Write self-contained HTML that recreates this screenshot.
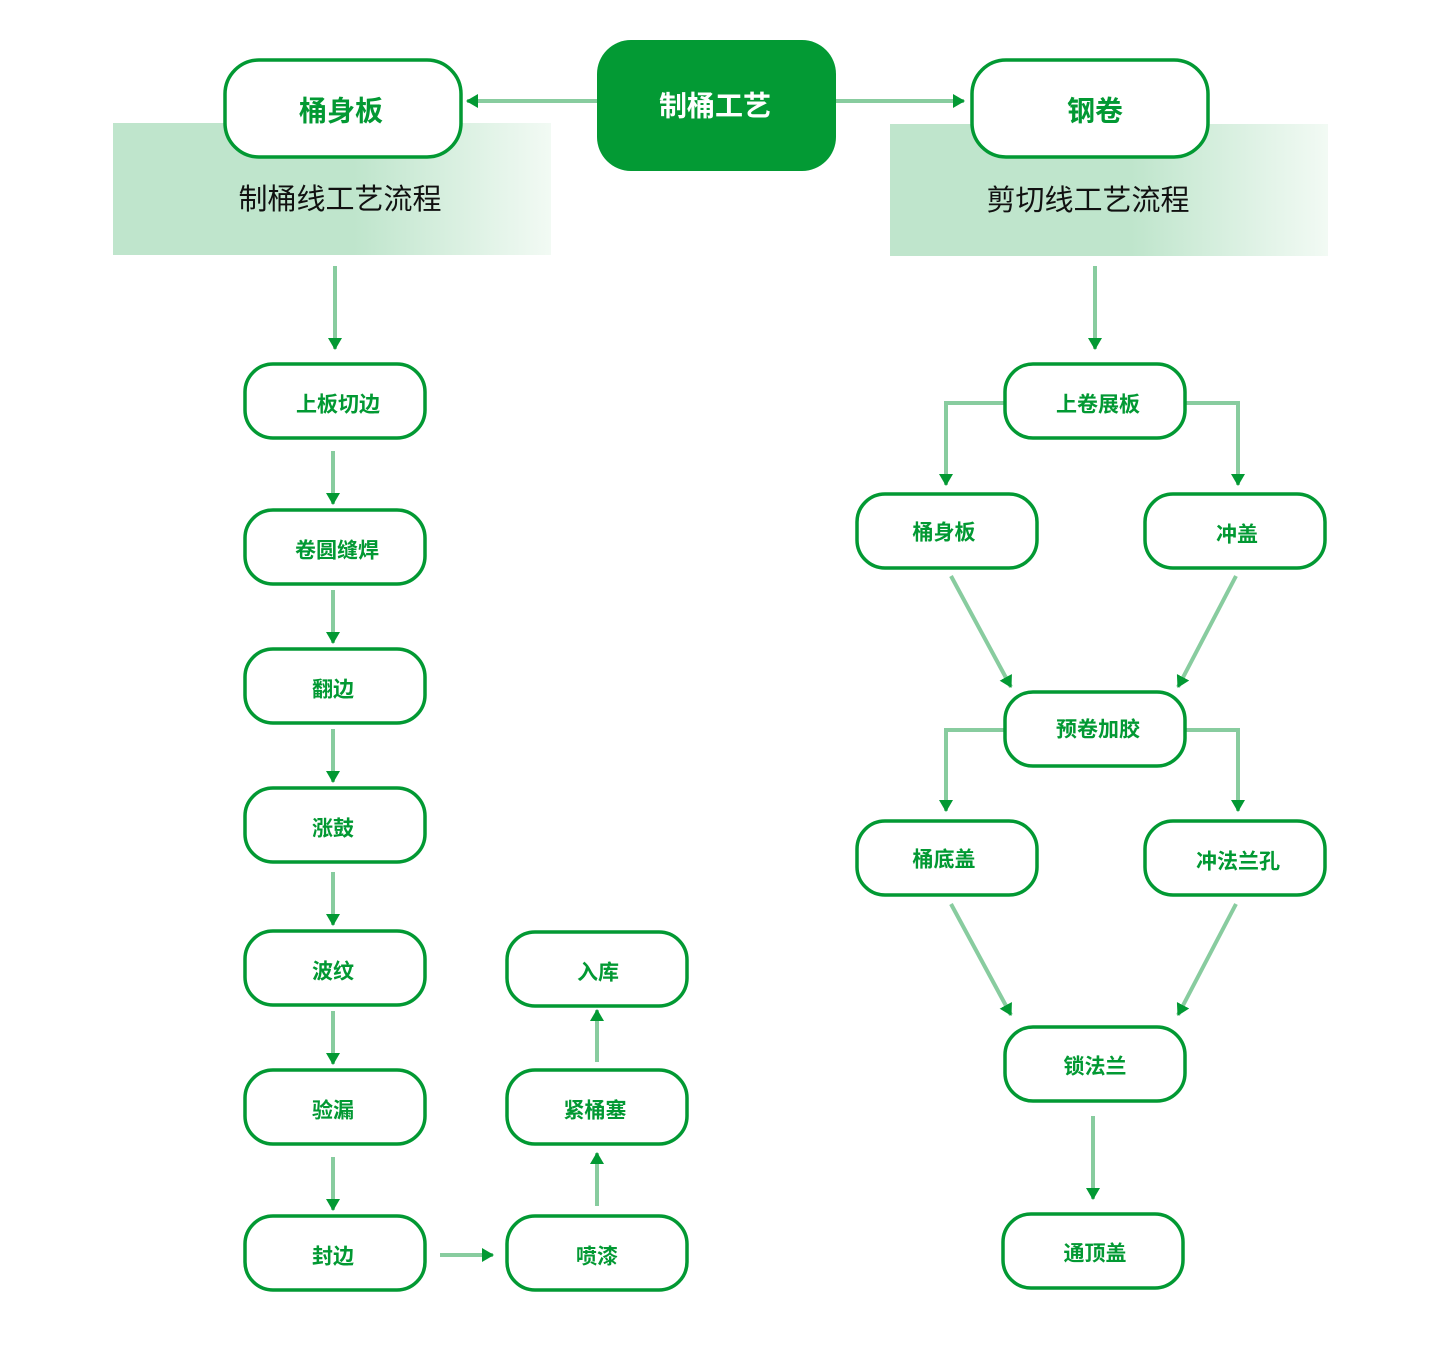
<!DOCTYPE html>
<html><head><meta charset="utf-8"><style>
html,body{margin:0;padding:0;background:#fff}
svg{display:block}
text{font-family:"Liberation Sans","Noto Sans CJK SC",sans-serif;text-anchor:middle;dominant-baseline:central}
.b{fill:#fff;stroke:#029933;stroke-width:3.5}
.t{fill:#029933;font-weight:bold;font-size:21px}
.T{fill:#029933;font-weight:bold;font-size:28px}
.l{stroke:#88cc9f;stroke-width:4;fill:none}
</style></head><body>
<svg width="1453" height="1350" viewBox="0 0 1453 1350" xmlns="http://www.w3.org/2000/svg">
<defs>
<linearGradient id="g" x1="0" x2="1" y1="0" y2="0">
<stop offset="0" stop-color="#bfe5cc"/><stop offset="0.55" stop-color="#bfe5cc"/><stop offset="1" stop-color="#f2faf4"/>
</linearGradient>
<marker id="a" markerUnits="userSpaceOnUse" markerWidth="14" markerHeight="14" refX="11" refY="7" orient="auto">
<path d="M0,0 L12,7 L0,14 Z" fill="#029933"/>
</marker>
</defs>
<rect x="113" y="123" width="438" height="132" fill="url(#g)"/>
<rect x="890" y="124" width="438" height="132" fill="url(#g)"/>
<text x="340" y="200" font-size="29" fill="#111">制桶线工艺流程</text>
<text x="1088" y="201" font-size="29" fill="#111">剪切线工艺流程</text>

<rect x="597" y="40" width="239" height="131" rx="34" fill="#039a34"/>
<text x="715" y="106" font-size="28" font-weight="bold" fill="#fff">制桶工艺</text>
<rect class="b" x="225" y="60" width="236" height="97" rx="34"/>
<text class="T" x="341" y="111">桶身板</text>
<rect class="b" x="972" y="60" width="236" height="97" rx="34"/>
<text class="T" x="1095" y="111">钢卷</text>

<g class="l">
<line x1="597" y1="101" x2="467" y2="101" marker-end="url(#a)"/>
<line x1="836" y1="101" x2="964" y2="101" marker-end="url(#a)"/>
<line x1="335" y1="266" x2="335" y2="349" marker-end="url(#a)"/>
<line x1="1095" y1="266" x2="1095" y2="349" marker-end="url(#a)"/>
<line x1="333" y1="451" x2="333" y2="504" marker-end="url(#a)"/>
<line x1="333" y1="590" x2="333" y2="643" marker-end="url(#a)"/>
<line x1="333" y1="729" x2="333" y2="782" marker-end="url(#a)"/>
<line x1="333" y1="872" x2="333" y2="925" marker-end="url(#a)"/>
<line x1="333" y1="1011" x2="333" y2="1064" marker-end="url(#a)"/>
<line x1="333" y1="1157" x2="333" y2="1210" marker-end="url(#a)"/>
<line x1="440" y1="1255" x2="493" y2="1255" marker-end="url(#a)"/>
<line x1="597" y1="1206" x2="597" y2="1153" marker-end="url(#a)"/>
<line x1="597" y1="1062" x2="597" y2="1010" marker-end="url(#a)"/>
<polyline points="1005,403 946,403 946,485" marker-end="url(#a)"/>
<polyline points="1185,403 1238,403 1238,485" marker-end="url(#a)"/>
<line x1="951" y1="576" x2="1011" y2="687" marker-end="url(#a)"/>
<line x1="1236" y1="576" x2="1178" y2="687" marker-end="url(#a)"/>
<polyline points="1005,730 946,730 946,811" marker-end="url(#a)"/>
<polyline points="1185,730 1238,730 1238,811" marker-end="url(#a)"/>
<line x1="951" y1="904" x2="1011" y2="1015" marker-end="url(#a)"/>
<line x1="1236" y1="904" x2="1178" y2="1015" marker-end="url(#a)"/>
<line x1="1093" y1="1116" x2="1093" y2="1199" marker-end="url(#a)"/>
</g>

<rect class="b" x="245" y="364" width="180" height="74" rx="28"/><text class="t" x="338" y="405">上板切边</text>
<rect class="b" x="245" y="510" width="180" height="74" rx="28"/><text class="t" x="337" y="551">卷圆缝焊</text>
<rect class="b" x="245" y="649" width="180" height="74" rx="28"/><text class="t" x="333" y="690">翻边</text>
<rect class="b" x="245" y="788" width="180" height="74" rx="28"/><text class="t" x="333" y="829">涨鼓</text>
<rect class="b" x="245" y="931" width="180" height="74" rx="28"/><text class="t" x="333" y="972">波纹</text>
<rect class="b" x="245" y="1070" width="180" height="74" rx="28"/><text class="t" x="333" y="1111">验漏</text>
<rect class="b" x="245" y="1216" width="180" height="74" rx="28"/><text class="t" x="333" y="1257">封边</text>
<rect class="b" x="507" y="1216" width="180" height="74" rx="28"/><text class="t" x="597" y="1257">喷漆</text>
<rect class="b" x="507" y="1070" width="180" height="74" rx="28"/><text class="t" x="595" y="1111">紧桶塞</text>
<rect class="b" x="507" y="932" width="180" height="74" rx="28"/><text class="t" x="598" y="973">入库</text>

<rect class="b" x="1005" y="364" width="180" height="74" rx="28"/><text class="t" x="1098" y="405">上卷展板</text>
<rect class="b" x="857" y="494" width="180" height="74" rx="28"/><text class="t" x="944" y="533">桶身板</text>
<rect class="b" x="1145" y="494" width="180" height="74" rx="28"/><text class="t" x="1237" y="535">冲盖</text>
<rect class="b" x="1005" y="692" width="180" height="74" rx="28"/><text class="t" x="1098" y="730">预卷加胶</text>
<rect class="b" x="857" y="821" width="180" height="74" rx="28"/><text class="t" x="944" y="860">桶底盖</text>
<rect class="b" x="1145" y="821" width="180" height="74" rx="28"/><text class="t" x="1238" y="862">冲法兰孔</text>
<rect class="b" x="1005" y="1027" width="180" height="74" rx="28"/><text class="t" x="1095" y="1067">锁法兰</text>
<rect class="b" x="1003" y="1214" width="180" height="74" rx="28"/><text class="t" x="1095" y="1254">通顶盖</text>
</svg>
</body></html>
